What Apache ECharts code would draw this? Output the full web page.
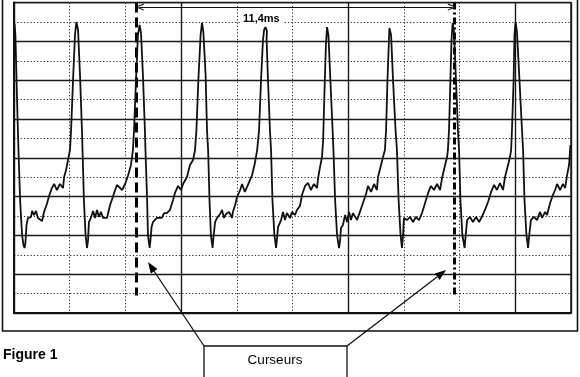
<!DOCTYPE html>
<html><head><meta charset="utf-8">
<script src="https://cdn.jsdelivr.net/npm/echarts@6/dist/echarts.min.js"></script>
<style>html,body{margin:0;padding:0;background:#fff}#c{width:580px;height:377px}</style>
</head><body><div id="c"></div>
<script>
// Time in ms (2 ms / division), amplitude in screen divisions (-8..8)
const cycle0 = [[0.02,6.90],[0.05,6.33],[0.11,2.98],[0.16,0.40],[0.22,-2.18],[0.29,-3.99],[0.34,-4.49],[0.38,-4.65]];
const cycle1 = [[0.41,-4.39],[0.45,-3.46],[0.50,-3.11],[0.61,-3.05],[0.65,-2.74],[0.72,-2.95],[0.79,-2.74],[0.86,-3.10],[1.01,-3.26],[1.08,-2.79],[1.18,-2.38],[1.26,-1.97],[1.36,-1.56],[1.44,-1.35],[1.54,-1.66],[1.65,-1.35],[1.76,-1.56],[1.80,-0.99],[1.87,-0.63],[1.94,-0.11],[2.01,0.40],[2.05,1.43],[2.12,4.01],[2.19,6.33],[2.24,7.00],[2.30,6.59],[2.37,4.27],[2.44,1.43],[2.46,0.40],[2.51,-2.18],[2.57,-3.98],[2.62,-4.65]];
const cycle2 = [[2.66,-4.24],[2.69,-3.31],[2.76,-3.10],[2.84,-2.74],[2.91,-3.10],[2.98,-2.69],[3.05,-3.05],[3.12,-2.79],[3.20,-3.10],[3.34,-3.10],[3.45,-2.43],[3.55,-2.02],[3.63,-1.66],[3.70,-1.40],[3.77,-1.30],[3.88,-1.66],[3.99,-1.35],[4.09,-0.94],[4.20,-0.37],[4.27,0.40],[4.31,1.43],[4.38,4.01],[4.45,6.33],[4.51,6.85],[4.56,6.43],[4.63,4.27],[4.70,1.43],[4.72,0.40],[4.78,-2.18],[4.81,-3.98],[4.87,-4.65]];
const cycle3 = [[4.90,-4.24],[4.94,-3.57],[4.99,-3.31],[5.13,-3.10],[5.31,-3.10],[5.39,-2.85],[5.49,-2.85],[5.60,-2.69],[5.71,-2.18],[5.78,-1.81],[5.89,-1.45],[6.00,-1.66],[6.07,-1.35],[6.21,-0.99],[6.32,-0.37],[6.43,-0.11],[6.50,0.40],[6.55,1.43],[6.62,4.01],[6.70,6.33],[6.75,6.95],[6.80,6.48],[6.88,4.27],[6.93,1.43],[6.97,0.40],[7.02,-2.18],[7.07,-3.98],[7.13,-4.65]];
const cycle4 = [[7.16,-4.13],[7.22,-3.31],[7.29,-3.10],[7.40,-2.90],[7.47,-2.69],[7.54,-3.10],[7.61,-2.90],[7.72,-2.79],[7.83,-3.10],[7.86,-2.79],[7.94,-2.43],[8.01,-2.02],[8.12,-1.66],[8.19,-1.35],[8.29,-1.76],[8.40,-1.40],[8.55,-0.89],[8.65,-0.27],[8.73,0.40],[8.80,1.43],[8.87,4.01],[8.94,6.07],[8.98,6.59],[9.03,6.74],[9.08,6.54],[9.07,6.07],[9.12,4.01],[9.19,1.43],[9.23,0.40],[9.28,-2.18],[9.35,-3.98],[9.41,-4.65]];
const cycle5 = [[9.44,-4.24],[9.48,-3.57],[9.59,-3.21],[9.66,-2.79],[9.73,-3.21],[9.80,-2.85],[9.91,-3.10],[9.98,-2.79],[10.09,-2.95],[10.16,-2.69],[10.27,-2.48],[10.34,-1.92],[10.45,-1.45],[10.56,-1.30],[10.66,-1.66],[10.77,-1.35],[10.88,-1.56],[10.92,-1.04],[10.99,-0.47],[11.06,0.04],[11.10,0.92],[11.15,3.49],[11.20,5.81],[11.24,6.74],[11.29,6.33],[11.36,4.01],[11.44,1.43],[11.47,0.40],[11.53,-2.18],[11.60,-3.98],[11.67,-4.65]];
const cycle6 = [[11.71,-4.24],[11.74,-3.62],[11.81,-3.46],[11.89,-2.95],[11.96,-3.31],[12.03,-2.79],[12.10,-3.21],[12.17,-2.85],[12.32,-3.21],[12.42,-2.79],[12.53,-2.33],[12.64,-1.87],[12.71,-1.45],[12.82,-1.76],[12.93,-1.35],[13.03,-1.66],[13.07,-0.99],[13.18,-0.37],[13.25,0.04],[13.32,0.40],[13.36,1.43],[13.41,4.01],[13.47,6.33],[13.48,6.69],[13.54,6.33],[13.61,4.01],[13.70,1.43],[13.75,0.40],[13.81,-2.18],[13.88,-3.98],[13.93,-4.65]];
const cycle7 = [[13.97,-3.98],[14.00,-3.10],[14.11,-3.21],[14.22,-3.05],[14.33,-3.31],[14.43,-3.05],[14.54,-3.21],[14.65,-2.85],[14.76,-2.33],[14.87,-1.81],[14.97,-1.45],[15.08,-1.66],[15.19,-1.35],[15.30,-1.66],[15.37,-1.04],[15.48,-0.37],[15.55,0.04],[15.58,0.40],[15.62,1.43],[15.67,4.01],[15.71,6.07],[15.75,6.95],[15.80,6.48],[15.87,4.01],[15.94,1.43],[15.98,0.40],[16.03,-2.18],[16.10,-3.98],[16.18,-4.65]];
const cycle8 = [[16.21,-4.13],[16.27,-3.21],[16.37,-3.05],[16.48,-3.31],[16.59,-3.05],[16.70,-3.31],[16.80,-3.05],[16.91,-2.69],[17.02,-2.28],[17.13,-1.76],[17.24,-1.40],[17.34,-1.66],[17.45,-1.30],[17.56,-1.66],[17.63,-0.99],[17.74,-0.37],[17.81,0.04],[17.85,0.40],[17.88,1.43],[17.94,4.01],[17.97,6.33],[18.01,7.00],[18.06,6.48],[18.15,4.01],[18.24,1.43],[18.28,0.40],[18.33,-2.18],[18.40,-3.98],[18.46,-4.65]];
const cycle9 = [[18.49,-4.13],[18.56,-3.21],[18.67,-3.05],[18.78,-3.21],[18.89,-2.79],[18.96,-3.10],[19.07,-2.79],[19.14,-2.95],[19.25,-2.33],[19.35,-1.92],[19.43,-1.66],[19.50,-1.35],[19.61,-1.66],[19.71,-1.35],[19.79,-1.56],[19.86,-0.89],[19.93,-0.37],[19.98,0.66]];

const cursorTimes = [4.40, 15.80];
const cursorRange = [8, -7.1];
const measureFrom = 4.50, measureTo = 15.74, measureLevel = 7.77;
const measureText = '11,4ms';
const figureTitle = 'Figure 1';
const boxText = 'Curseurs';
const xRange = [0, 20], xMinorStep = 2, xMajorStep = 6;
const yRange = [-8, 8], yMinorStep = 1, yMajorStep = 2;

const trace = [].concat(cycle0, cycle1, cycle2, cycle3, cycle4, cycle5, cycle6, cycle7, cycle8, cycle9);

const chart = echarts.init(document.getElementById('c'), null, {renderer: 'canvas'});
const FONT = '"Liberation Sans", Arial, Helvetica, sans-serif';
const dotted = {color: '#333', width: 1, type: [1.3, 2]};
const solid = {color: '#1a1a1a', width: 1.4, type: 'solid'};
const hiddenAxis = {axisLabel: {show: false}, axisTick: {show: false}};
const chevron = 'path://M0,10 L5,0 L10,10 L8.4,10 L5,3.2 L1.6,10 Z';

chart.setOption({
  animation: false,
  backgroundColor: '#fff',
  grid: {left: 14, top: 2.6, right: 9, bottom: 64, show: true, borderColor: '#111', borderWidth: 1.4, backgroundColor: 'transparent'},
  xAxis: [
    Object.assign({type: 'value', min: xRange[0], max: xRange[1], interval: xMinorStep, axisLine: {show: false}, splitLine: {show: true, lineStyle: dotted}}, hiddenAxis),
    Object.assign({type: 'value', min: xRange[0], max: xRange[1], interval: xMajorStep, position: 'bottom', axisLine: {show: true, onZero: false, lineStyle: {color: '#111', width: 2}}, splitLine: {show: true, lineStyle: solid}}, hiddenAxis)
  ],
  yAxis: [
    Object.assign({type: 'value', min: yRange[0], max: yRange[1], interval: yMinorStep, axisLine: {show: false}, splitLine: {show: true, lineStyle: dotted}}, hiddenAxis),
    Object.assign({type: 'value', min: yRange[0], max: yRange[1], interval: yMajorStep, position: 'left', axisLine: {show: true, onZero: false, lineStyle: {color: '#111', width: 2}}, splitLine: {show: true, lineStyle: solid}}, hiddenAxis)
  ],
  series: [
    {
      type: 'line', xAxisIndex: 0, yAxisIndex: 0, data: trace,
      showSymbol: false, symbol: 'none', smooth: false,
      lineStyle: {color: '#111', width: 1.8}, z: 5,
      markLine: {
        silent: true, symbol: ['none', 'none'], label: {show: false},
        data: [
          [{coord: [cursorTimes[0], cursorRange[0]], lineStyle: {color: '#000', width: 3, type: [10, 5]}}, {coord: [cursorTimes[0], cursorRange[1]]}],
          [{coord: [cursorTimes[1], cursorRange[0]], lineStyle: {color: '#000', width: 3, type: [7, 3, 2, 3]}}, {coord: [cursorTimes[1], cursorRange[1]]}]
        ]
      }
    },
    {
      type: 'line', xAxisIndex: 0, yAxisIndex: 0, data: [], z: 6,
      markLine: {
        silent: true, symbol: [chevron, chevron], symbolSize: [7, 9],
        label: {show: false},
        lineStyle: {color: '#111', width: 1, type: 'solid'},
        data: [[{coord: [measureFrom, measureLevel]}, {coord: [measureTo, measureLevel]}]]
      }
    }
  ],
  graphic: [
    {type: 'rect', z: 100, silent: true, shape: {x: 2.5, y: -4, width: 575, height: 335}, style: {fill: 'none', stroke: '#111', lineWidth: 1.6}},
    {type: 'text', z: 101, silent: true, style: {x: 240, y: 12, text: measureText, font: 'bold 11px ' + FONT, fill: '#000', backgroundColor: '#fff', padding: [1, 3, 1, 3]}},
    {type: 'text', z: 101, silent: true, style: {x: 3, y: 348, text: figureTitle, font: 'bold 14px ' + FONT, fill: '#000'}},
    {type: 'rect', z: 100, silent: true, shape: {x: 204, y: 346, width: 143, height: 40}, style: {fill: '#fff', stroke: '#111', lineWidth: 1.3}},
    {type: 'text', z: 101, silent: true, style: {x: 275, y: 360, text: boxText, font: '13.5px ' + FONT, fill: '#000', align: 'center', verticalAlign: 'middle'}},
    {type: 'line', z: 100, silent: true, shape: {x1: 204, y1: 346, x2: 154, y2: 271}, style: {stroke: '#111', lineWidth: 1.3}},
    {type: 'polygon', z: 100, silent: true, shape: {points: [[148, 262], [157.4, 269.0], [150.8, 273.4]]}, style: {fill: '#000'}},
    {type: 'line', z: 100, silent: true, shape: {x1: 347, y1: 346, x2: 437, y2: 277}, style: {stroke: '#111', lineWidth: 1.3}},
    {type: 'polygon', z: 100, silent: true, shape: {points: [[446, 270], [439.7, 279.9], [434.9, 273.5]]}, style: {fill: '#000'}}
  ]
});
</script>
</body></html>
